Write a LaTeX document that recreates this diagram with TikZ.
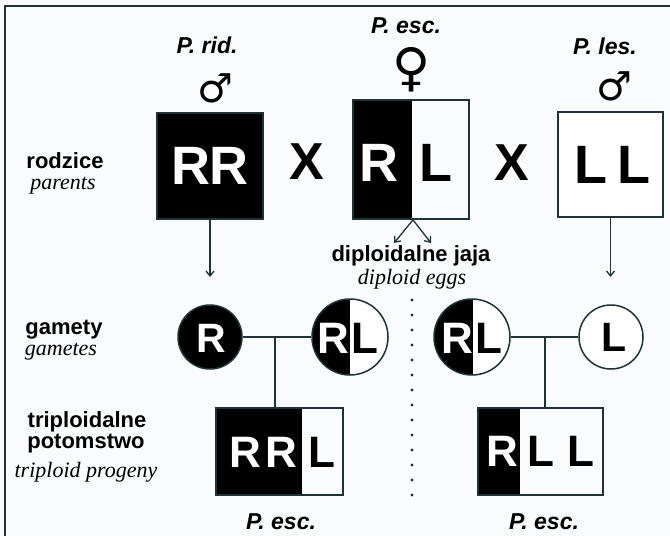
\documentclass[tikz,border=0pt]{standalone}
\usepackage{fontspec}
\setmainfont{Liberation Serif}
\newfontfamily\sansf{Liberation Sans}
\newfontfamily\symf{DejaVu Sans}
\usetikzlibrary{arrows.meta}
\definecolor{linec}{RGB}{30,50,55}
\definecolor{bgc}{RGB}{250,251,253}
\begin{document}
\begin{tikzpicture}[x=1pt,y=-1pt,
  lbl/.style={font=\sansf\bfseries\fontsize{22}{26}\selectfont, anchor=base, inner sep=0},
  eng/.style={font=\itshape\fontsize{22}{26}\selectfont, anchor=base, inner sep=0},
  spec/.style={font=\sansf\bfseries\itshape\fontsize{23}{26}\selectfont, inner sep=0},
  msym/.style={font=\symf\fontsize{40}{42}\selectfont, inner sep=0},
  fsym/.style={font=\symf\fontsize{52}{54}\selectfont, inner sep=0},
  big/.style={font=\sansf\bfseries\fontsize{54}{60}\selectfont, inner sep=0},
  mid/.style={font=\sansf\bfseries\fontsize{44}{50}\selectfont, inner sep=0},
  gam/.style={font=\sansf\bfseries\fontsize{41}{48}\selectfont, inner sep=0},
  gamb/.style={font=\sansf\bfseries\fontsize{44}{48}\selectfont, inner sep=0},
  box/.style={draw=linec, line width=1.8pt, inner sep=0, rectangle},
  gcirc/.style={draw=linec, line width=1.5pt, circle, inner sep=0},
  conn/.style={draw=linec, line width=1.3pt},
  arr/.style={conn, -{Straight Barb[length=5pt,width=8pt]}},
  wl/.style={text=white},
]
\useasboundingbox (0,0) rectangle (670,536);
\fill[bgc] (0,0) rectangle (670,536);
% frame
\draw[linec, line width=2.5pt] (5,537) -- (5,6) -- (671,6);

% species names and sex symbols
\node[spec] (prid) at (207,45) {P. rid.};
\node[spec] (pesc) at (406,25.5) {P. esc.};
\node[spec] (ples) at (605,46.5) {P. les.};
\node[msym] (m1) at (215,88) {♂};
\node[fsym] (f1) at (412,70) {♀};
\node[msym] (m2) at (614,86) {♂};

% parents
\node[box, fill=black, minimum width=106pt, minimum height=106pt] (rr) at (210,166) {};
\fill[black] (353,100) rectangle (412,219);
\node[box, minimum width=116pt, minimum height=119pt] (rl) at (411,159.5) {};
\node[box, fill=white, minimum width=105pt, minimum height=105pt] (ll) at (610.5,164.5) {};
\node[big, wl] (rrt) at (210,166) {RR};
\node[big, wl] (rlr) at (379,163) {R};
\node[big] (rll) at (436,163) {L};
\node[big] (ll1) at (591,165) {L};
\node[big] (ll2) at (634,165) {L};
\node[font=\sansf\bfseries\fontsize{52}{56}\selectfont, inner sep=0] (x1) at (307,162) {X};
\node[font=\sansf\bfseries\fontsize{52}{56}\selectfont, inner sep=0] (x2) at (512,163) {X};

% row labels
\node[lbl] (rodz) at (65,168) {rodzice};
\node[eng] (par) at (63,189) {parents};
\node[lbl] (gam) at (64,334) {gamety};
\node[eng] (game) at (61,355) {gametes};
\node[lbl] (trip) at (87,427) {triploidalne};
\node[lbl] (poto) at (86,448) {potomstwo};
\node[eng] (tprog) at (86,477) {triploid progeny};

% eggs
\coordinate (egl) at (394,243);
\coordinate (egr) at (431,243);
\draw[arr] ([xshift=2pt]rl.south) -- (egl);
\draw[arr] ([xshift=2pt]rl.south) -- (egr);
\node[lbl] (dj) at (411,261) {diploidalne jaja};
\node[eng] (de) at (412,284) {diploid eggs};

% parent arrows
\coordinate (a1) at (210,277);
\coordinate (a2) at (610.5,277);
\draw[arr] (rr.south) -- (a1);
\draw[arr] (ll.south) -- (a2);

% dotted divider
\draw[linec, line width=3.2pt, line cap=round, dash pattern=on 0pt off 15pt] (412,300) -- (412,502);

% gametes
\node[gcirc, fill=black, minimum size=64pt] (gR) at (210,337) {};
\begin{scope}
  \clip (350,337) circle[radius=38pt];
  \fill[white] (300,290) rectangle (400,390);
  \fill[black] (300,290) rectangle (350,390);
\end{scope}
\node[gcirc, minimum size=76pt] (gRL1) at (350,337) {};
\begin{scope}
  \clip (472,337) circle[radius=38pt];
  \fill[white] (420,290) rectangle (520,390);
  \fill[black] (420,290) rectangle (473,390);
\end{scope}
\node[gcirc, minimum size=76pt] (gRL2) at (472,337) {};
\node[gcirc, fill=white, minimum size=64pt] (gL) at (611,337) {};
\node[gam, wl] at (211,338) {R};
\node[gamb, wl] at (333,338) {R};
\node[gamb] at (365,338) {L};
\node[gamb, wl] at (457,338) {R};
\node[gamb] at (489,338) {L};
\node[gam] at (614,337) {L};

% offspring
\fill[black] (216,408) rectangle (302,495);
\node[box, minimum width=127pt, minimum height=87pt] (rrl) at (279.5,451.5) {};
\fill[black] (478,408) rectangle (520,495);
\node[box, minimum width=125pt, minimum height=87pt] (rllb) at (540.5,451.5) {};
\node[mid, wl] at (245,452) {R};
\node[mid, wl] at (281,452) {R};
\node[mid] at (322,452) {L};
\node[mid, wl] at (502,451) {R};
\node[mid] at (541,451) {L};
\node[mid] at (581,451) {L};

% crosses
\coordinate (j1) at (275,337);
\coordinate (j2) at (545,337);
\draw[conn] (gR) -- (gRL1);
\draw[conn] (gRL2) -- (gL);
\draw[conn] (j1) -- (j1 |- rrl.north);
\draw[conn] (j2) -- (j2 |- rllb.north);

\node[spec] (pe1) at (281,522) {P. esc.};
\node[spec] (pe2) at (544,522) {P. esc.};
\end{tikzpicture}
\end{document}
